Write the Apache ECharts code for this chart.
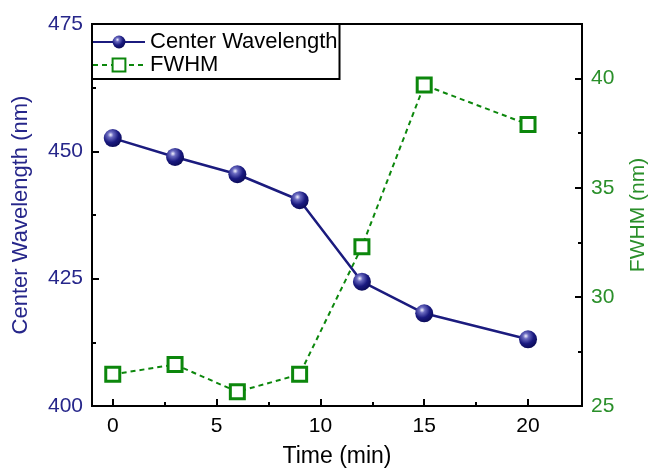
<!DOCTYPE html>
<html>
<head>
<meta charset="utf-8">
<script src="https://cdn.jsdelivr.net/npm/echarts@6/dist/echarts.min.js"></script>
<style>
html, body { margin: 0; padding: 0; background: #fff; }
#main { width: 650px; height: 468px; }
</style>
</head>
<body>
<div id="main"></div>
<script>
// 数据
var times = [0, 3, 6, 9, 12, 15, 20];
var centerWavelength = [452.6, 448.9, 445.5, 440.4, 424.4, 418.2, 413.1];
var fwhm = [26.45, 26.9, 25.65, 26.45, 32.3, 39.7, 37.9];
var xMajorTicks = [0, 5, 10, 15, 20];
var xMinorTicks = [2.5, 7.5, 12.5, 17.5];
var rightMajorTicks = [25, 30, 35, 40];
var rightMinorTicks = [27.5, 32.5, 37.5];

var navy = '#1b1b7e';
var navyText = '#26268a';
var green = '#0c870c';
var greenText = '#2a8f2a';
var font = 'Liberation Sans';

function pairs(xs, ys) {
    var out = [];
    for (var i = 0; i < xs.length; i++) {
        out.push([xs[i], ys[i]]);
    }
    return out;
}

var sphere = {
    type: 'radial', x: 0.38, y: 0.32, r: 0.72,
    colorStops: [
        { offset: 0, color: '#f4f4ff' },
        { offset: 0.22, color: '#6a6ac0' },
        { offset: 0.6, color: '#1a1a80' },
        { offset: 1, color: '#0a0a55' }
    ]
};

var tickLine = { color: '#000', width: 2 };

var chart = echarts.init(document.getElementById('main'));
var option = {
    animation: false,
    textStyle: { fontFamily: font },
    grid: {
        left: 92, right: 68, top: 24, bottom: 62,
        outerBoundsMode: 'none',
        show: true, borderColor: '#000', borderWidth: 2, backgroundColor: 'transparent'
    },
    legend: {
        orient: 'vertical',
        left: 92, top: 24,
        padding: [7, 2, 3, 0],
        itemWidth: 52, itemHeight: 16, itemGap: 1,
        borderColor: '#000', borderWidth: 2,
        backgroundColor: '#fff',
        textStyle: { fontFamily: font, fontSize: 22, lineHeight: 20, color: '#000' },
        data: ['Center Wavelength', 'FWHM']
    },
    xAxis: [{
        type: 'value', min: -1, max: 22.6,
        name: 'Time (min)', nameLocation: 'middle', nameGap: 39,
        nameTextStyle: { fontSize: 23, color: '#000' },
        axisLine: { onZero: false, lineStyle: { color: '#000', width: 2 } },
        axisTick: { inside: true, length: 7, customValues: xMajorTicks, lineStyle: tickLine },
        axisLabel: { customValues: xMajorTicks, fontSize: 21, color: '#000', margin: 10 },
        splitLine: { show: false }
    }, {
        type: 'value', min: -1, max: 22.6, position: 'bottom',
        axisLine: { show: false, onZero: false },
        axisTick: { inside: true, length: 4, customValues: xMinorTicks, lineStyle: tickLine },
        axisLabel: { show: false },
        splitLine: { show: false }
    }],
    yAxis: [{
        type: 'value', min: 400, max: 475, interval: 25, position: 'left',
        name: 'Center Wavelength (nm)', nameLocation: 'middle', nameGap: 60, nameRotate: 90,
        nameTextStyle: { fontSize: 22, color: navyText },
        axisLine: { show: true, onZero: false, lineStyle: { color: '#000', width: 2 } },
        axisTick: { inside: true, length: 7, lineStyle: tickLine },
        minorTick: { show: true, splitNumber: 2, length: 4, lineStyle: tickLine },
        axisLabel: { fontSize: 21, color: navyText, margin: 9 },
        splitLine: { show: false },
        minorSplitLine: { show: false }
    }, {
        type: 'value', min: 25, max: 42.5, position: 'right',
        name: 'FWHM (nm)', nameLocation: 'middle', nameGap: 46, nameRotate: 90,
        nameTextStyle: { fontSize: 21, color: greenText },
        axisLine: { show: true, onZero: false, lineStyle: { color: '#000', width: 2 } },
        axisTick: { inside: true, length: 7, customValues: rightMajorTicks, lineStyle: tickLine },
        axisLabel: { customValues: rightMajorTicks, fontSize: 21, color: greenText, margin: 9 },
        splitLine: { show: false }
    }, {
        type: 'value', min: 25, max: 42.5, position: 'right',
        axisLine: { show: false, onZero: false },
        axisTick: { inside: true, length: 4, customValues: rightMinorTicks, lineStyle: tickLine },
        axisLabel: { show: false },
        splitLine: { show: false }
    }],
    series: [{
        name: 'FWHM',
        type: 'line',
        xAxisIndex: 0, yAxisIndex: 1,
        data: pairs(times, fwhm),
        symbol: 'rect', symbolSize: 14,
        itemStyle: { color: '#fff', borderColor: green, borderWidth: 3 },
        lineStyle: { color: green, width: 2, type: [5, 4] },
        z: 2
    }, {
        name: 'Center Wavelength',
        type: 'line',
        xAxisIndex: 0, yAxisIndex: 0,
        data: pairs(times, centerWavelength),
        symbol: 'circle', symbolSize: 18,
        itemStyle: { color: sphere, borderWidth: 0 },
        lineStyle: { color: navy, width: 2.5 },
        z: 3
    }]
};
chart.setOption(option);
</script>
</body>
</html>
